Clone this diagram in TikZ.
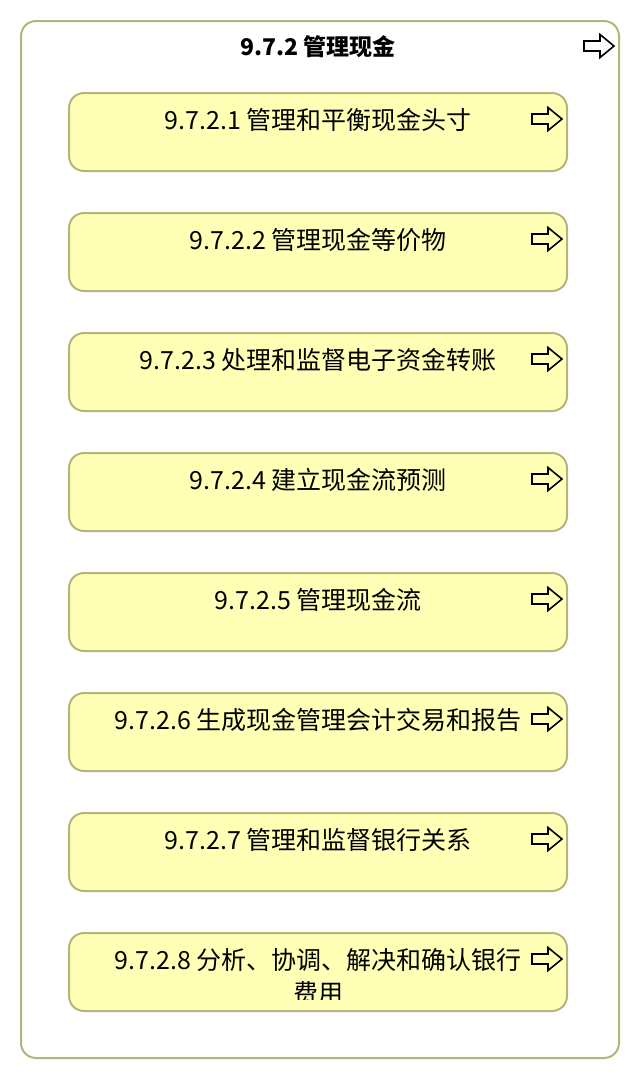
\documentclass[tikz,border=0pt]{standalone}
\usepackage{fontspec}
\setmainfont{Noto Sans CJK SC}
\usepackage{tikz}

\definecolor{boxfill}{RGB}{255,255,181}
\definecolor{boxline}{RGB}{181,181,122}

\tikzset{
  group/.style={draw=boxline, line width=2pt, rounded corners=15pt},
  task/.style={draw=boxline, fill=boxfill, line width=2pt, rounded corners=15pt,
               minimum width=498pt, minimum height=78pt, inner sep=0pt},
  tasktext/.style={anchor=base, inner sep=0pt,
                   font=\fontsize{25}{33}\selectfont},
  pics/goto/.style={code={
      \draw[line width=1.6pt, line join=miter]
        (-15,-5) -- (1,-5) -- (1,-11.5) -- (15,0) -- (1,11.5) -- (1,5) -- (-15,5) -- cycle;
  }}
}

\begin{document}
\begin{tikzpicture}[x=1pt, y=-1pt]
  \useasboundingbox (0,0) rectangle (640,1080);
  % outer group
  \draw[group] (21,21) rectangle (619,1058);
  \node[font=\fontsize{23}{28}\bfseries\selectfont] (title) at (318,47) {9.7.2 管理现金};
  \pic at (599,46) {goto};
  % the eight sub-processes
  \foreach \i/\txt in {1/管理和平衡现金头寸, 2/管理现金等价物,
                       3/处理和监督电子资金转账, 4/建立现金流预测,
                       5/管理现金流, 6/生成现金管理会计交易和报告,
                       7/管理和监督银行关系, 8/{分析、协调、解决和确认银行\\费用}} {
    \node[task] (t\i) at (318,132+120*\i-120) {};
    \begin{scope}
      \clip (69,93+120*\i-120) rectangle (567,159+120*\i-120);
      \node[tasktext] (l\i) at (318,129+120*\i-120)
        {\begin{tabular}[t]{@{}c@{}}9.7.2.\i\ \txt\end{tabular}};
    \end{scope}
    \pic at (547,119+120*\i-120) {goto};
  }
\end{tikzpicture}
\end{document}
